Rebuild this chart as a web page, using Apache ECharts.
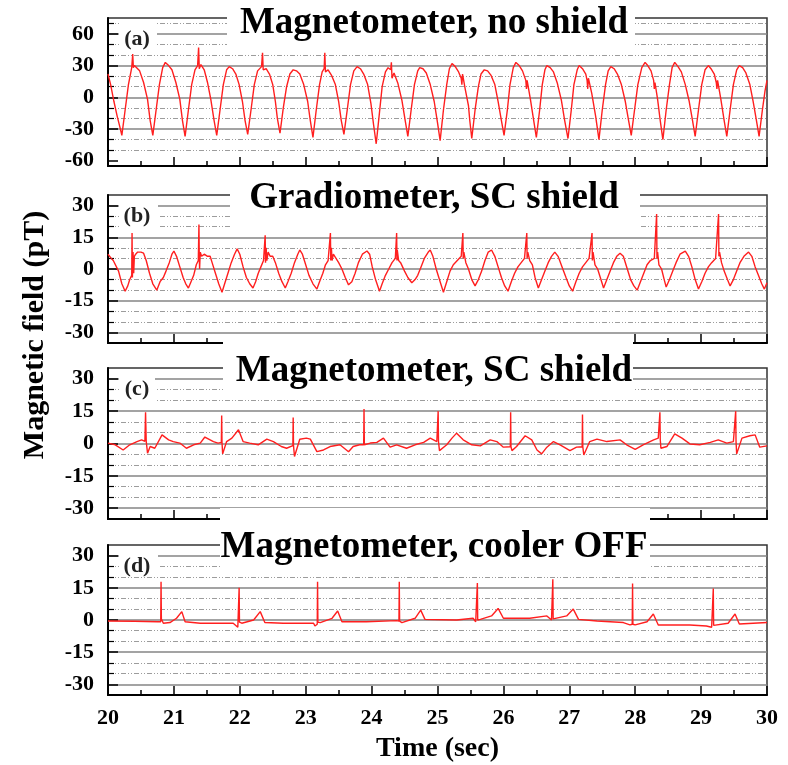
<!DOCTYPE html>
<html>
<head>
<meta charset="utf-8">
<title>Magnetic field traces</title>
<script src="https://cdn.jsdelivr.net/npm/echarts@6.0.0/dist/echarts.min.js"></script>
<style>
    html, body { margin: 0; padding: 0; background: #fff; }
    #chart { width: 788px; height: 765px; }
</style>
</head>
<body>
<div id="chart"></div>
<script>
// panel titles and tags
const panelTitles = ['Magnetometer, no shield', 'Gradiometer, SC shield', 'Magnetometer, SC shield', 'Magnetometer, cooler OFF'];
const panelTags = ['(a)', '(b)', '(c)', '(d)'];

// y ranges and ticks (pT)
const rangeA = [-65, 75];
const rangeBCD = [-35, 35];
const majorTicksA = [-60, -30, 0, 30, 60];
const minorTicksA = [-50, -40, -20, -10, 10, 20, 40, 50, 70];
const majorTicks = [-30, -15, 0, 15, 30];
const minorTicks = [-25, -20, -10, -5, 5, 10, 20, 25];
const timeRange = [20, 30];

// (a) magnetometer, no shield  [time s, field pT]
const traceA = [
    [20.00,22],[20.04,12],[20.09,-4],[20.14,-18],[20.18,-28],[20.21,-36],
    [20.26,-12],[20.31,12],[20.36,28],[20.375,41],[20.385,28],[20.40,30],[20.43,29],[20.48,25],[20.54,14],[20.60,-2],[20.64,-22],[20.68,-36],
    [20.73,-12],[20.78,12],[20.83,28],[20.87,33],[20.92,30],[20.97,26],[21.03,14],[21.09,-2],[21.13,-22],[21.17,-37],
    [21.22,-12],[21.27,12],[21.32,26],[21.36,30],[21.375,47],[21.385,27],[21.41,31],[21.46,26],[21.51,14],[21.56,-2],[21.61,-22],[21.65,-36],
    [21.70,-12],[21.75,12],[21.80,26],[21.84,29],[21.89,27],[21.94,22],[21.99,12],[22.04,-4],[22.08,-22],[22.12,-35],
    [22.17,-12],[22.22,12],[22.27,25],[22.33,29],[22.345,42],[22.355,26],[22.40,27],[22.45,22],[22.50,12],[22.54,-4],[22.57,-20],[22.61,-34],
    [22.66,-10],[22.71,10],[22.76,22],[22.81,26],[22.86,25],[22.91,22],[22.97,12],[23.03,-4],[23.07,-22],[23.11,-38],
    [23.16,-12],[23.21,12],[23.25,24],[23.28,27],[23.29,42],[23.30,24],[23.34,26],[23.39,21],[23.45,12],[23.50,-4],[23.54,-22],[23.58,-35],
    [23.63,-12],[23.68,12],[23.73,25],[23.78,29],[23.83,27],[23.88,22],[23.94,12],[23.99,-6],[24.03,-26],[24.07,-44],
    [24.12,-14],[24.16,10],[24.21,24],[24.25,28],[24.29,26],[24.30,33],[24.31,18],[24.34,23],[24.40,13],[24.46,-3],[24.51,-22],[24.55,-37],
    [24.60,-12],[24.65,12],[24.70,25],[24.73,28],[24.78,27],[24.83,23],[24.89,12],[24.95,-4],[25.00,-24],[25.04,-41],
    [25.09,-12],[25.14,12],[25.18,27],[25.22,32],[25.27,29],[25.32,24],[25.36,18],[25.37,12],[25.38,22],[25.42,8],[25.47,-8],[25.49,-22],[25.52,-39],
    [25.57,-12],[25.62,10],[25.66,22],[25.71,26],[25.76,25],[25.81,21],[25.87,12],[25.92,-4],[25.97,-22],[26.01,-36],
    [26.06,-12],[26.10,12],[26.15,28],[26.19,33],[26.24,30],[26.29,25],[26.34,16],[26.35,8],[26.36,16],[26.41,-2],[26.46,-22],[26.50,-38],
    [26.55,-12],[26.59,12],[26.63,26],[26.66,30],[26.71,28],[26.76,24],[26.82,13],[26.88,-3],[26.93,-22],[26.98,-39],
    [27.03,-12],[27.07,12],[27.12,26],[27.15,30],[27.20,27],[27.25,22],[27.27,16],[27.28,8],[27.29,18],[27.34,4],[27.40,-18],[27.45,-40],
    [27.50,-12],[27.55,12],[27.59,25],[27.63,29],[27.68,27],[27.73,22],[27.79,12],[27.85,-4],[27.90,-22],[27.94,-36],
    [27.99,-12],[28.04,12],[28.10,28],[28.15,33],[28.19,30],[28.24,25],[28.28,16],[28.29,8],[28.30,14],[28.34,-2],[28.38,-22],[28.42,-40],
    [28.47,-12],[28.52,12],[28.56,28],[28.60,33],[28.65,29],[28.70,24],[28.76,12],[28.82,-4],[28.87,-22],[28.91,-37],
    [28.96,-12],[29.01,12],[29.06,26],[29.11,30],[29.15,27],[29.20,22],[29.23,14],[29.24,8],[29.25,16],[29.30,-2],[29.35,-22],[29.39,-37],
    [29.44,-12],[29.49,12],[29.54,26],[29.58,30],[29.63,28],[29.68,23],[29.74,12],[29.79,-4],[29.84,-22],[29.88,-37],
    [29.93,-12],[29.97,6],[30.00,16]
];

// (b) gradiometer, SC shield
const traceB = [
    [20.00,7],[20.05,5],[20.08,4],[20.11,3.5],[20.16,-1],[20.21,-7],[20.26,-10.5],[20.30,-8],[20.33,-5],[20.36,-3],[20.365,17],[20.37,-4],[20.38,8],[20.39,-2],[20.40,6],[20.42,7],[20.45,8],[20.50,8],[20.54,7.5],[20.58,4],[20.63,-2],[20.68,-7],[20.74,-10],
    [20.79,-6],[20.84,-4],[20.88,-1],[20.93,3],[20.97,7],[21.00,8.5],[21.04,6],[21.09,1],[21.14,-4],[21.18,-7],[21.22,-9],
    [21.26,-6],[21.30,-3],[21.34,2],[21.37,4],[21.38,21],[21.385,6],[21.39,0],[21.40,8],[21.42,6],[21.46,7],[21.51,6],[21.55,6],[21.58,3],[21.63,-2],[21.68,-7],[21.73,-11],
    [21.77,-7],[21.82,-2],[21.87,3],[21.92,7],[21.96,9.5],[22.00,7],[22.05,1],[22.10,-4],[22.15,-7],[22.20,-9],
    [22.24,-6],[22.28,-2],[22.32,1],[22.36,4],[22.385,16],[22.39,3],[22.40,10],[22.41,4],[22.43,8],[22.46,6],[22.50,6],[22.54,3],[22.59,-2],[22.64,-6],[22.69,-9],
    [22.73,-6],[22.78,-2],[22.83,3],[22.88,7],[22.91,9],[22.95,7],[23.00,2],[23.05,-3],[23.11,-7],[23.17,-9.5],
    [23.21,-6],[23.26,-2],[23.30,2],[23.34,4],[23.375,17],[23.38,4],[23.39,10],[23.40,4],[23.42,7],[23.46,5],[23.50,3],[23.55,0],[23.60,-4],[23.65,-7.5],
    [23.70,-6],[23.75,-2],[23.80,3],[23.86,7],[23.93,8.5],[23.97,7],[24.01,1],[24.06,-5],[24.12,-10.5],
    [24.16,-7],[24.21,-3],[24.26,0],[24.31,3],[24.36,5],[24.38,17],[24.385,4],[24.39,9],[24.41,4],[24.44,3],[24.50,-1],[24.55,-4],[24.61,-6.5],[24.66,-5],[24.70,-3],
    [24.75,1],[24.80,5],[24.86,8],[24.89,9],[24.93,6],[24.98,0],[25.04,-6],[25.09,-11],
    [25.14,-6],[25.19,-1],[25.24,2],[25.30,4],[25.36,6],[25.385,17],[25.39,5],[25.40,8],[25.43,3],[25.47,0],[25.52,-5],[25.57,-8],
    [25.62,-5],[25.67,-1],[25.72,4],[25.77,8],[25.82,9],[25.87,6],[25.92,1],[25.97,-4],[26.02,-8],[26.07,-10.5],
    [26.12,-6],[26.17,-2],[26.22,1],[26.27,3],[26.32,5],[26.355,17],[26.36,5],[26.37,8],[26.40,4],[26.44,2],[26.48,-4],[26.53,-9],
    [26.58,-5],[26.63,-1],[26.68,3],[26.73,6],[26.78,8],[26.83,6],[26.89,1],[26.95,-4],[27.00,-8],[27.05,-10.5],
    [27.10,-6],[27.15,-2],[27.20,1],[27.25,3],[27.30,5],[27.345,17],[27.35,4],[27.36,8],[27.39,2],[27.43,0],[27.48,-5],[27.52,-9],
    [27.57,-5],[27.62,-1],[27.67,3],[27.72,6],[27.77,7.5],[27.82,6],[27.88,0],[27.93,-5],[27.98,-8],[28.03,-10],
    [28.08,-6],[28.13,-2],[28.18,2],[28.23,4],[28.29,5],[28.325,26],[28.33,5],[28.34,8],[28.36,2],[28.40,0],[28.44,-5],[28.47,-8.5],
    [28.52,-5],[28.57,-1],[28.62,3],[28.68,7],[28.76,8.5],[28.81,6],[28.86,1],[28.91,-5],[28.96,-9.5],
    [29.01,-6],[29.06,-2],[29.11,1],[29.16,3],[29.22,5],[29.265,26],[29.27,6],[29.28,8],[29.31,3],[29.35,-1],[29.40,-5],[29.44,-8],
    [29.49,-5],[29.54,-1],[29.59,3],[29.65,6],[29.72,8],[29.77,6],[29.82,1],[29.87,-3],[29.92,-7],[29.96,-9.5],[30.00,-6.5]
];

// (c) magnetometer, SC shield
const traceC = [
    [20.00,0.2],[20.11,-0.6],[20.23,-3],[20.33,-0.6],[20.44,0.9],[20.51,1.7],[20.56,1],[20.57,14.5],[20.58,1],[20.60,-4.5],[20.64,-1.4],[20.71,-2.2],[20.82,4],[20.92,1.7],[20.99,0.9],
    [21.09,0.2],[21.19,-2.2],[21.30,-0.6],[21.40,0.2],[21.47,3],[21.60,0.9],[21.67,0.2],[21.72,0.5],[21.725,13],[21.73,0.5],[21.74,-4.8],[21.80,0.9],[21.88,2.5],[21.98,6.4],
    [22.05,0.9],[22.15,0.2],[22.28,-0.6],[22.41,2],[22.51,0.9],[22.63,-1.4],[22.71,-2.2],[22.805,-1],[22.81,12],[22.815,-1],[22.83,-6],[22.91,2],[23.01,2.5],[23.07,2],
    [23.17,-3.8],[23.27,-3],[23.37,-1.4],[23.52,-0.6],[23.65,-3.8],[23.72,-1.4],[23.82,-0.6],[23.88,-0.6],[23.885,16],[23.89,-0.6],[23.98,0.2],[24.08,0.5],[24.18,2.5],
    [24.28,-1.7],[24.38,-0.6],[24.53,-2.2],[24.66,-0.6],[24.79,0.5],[24.89,2.5],[24.99,0.9],[25.005,0.9],[25.01,15],[25.015,0.9],[25.03,-3.3],[25.14,-0.6],[25.22,2.5],[25.29,4.8],
    [25.39,1.7],[25.52,-0.6],[25.65,-1.1],[25.80,1.7],[25.90,0.9],[26.00,-1.7],[26.105,-1.5],[26.11,14.5],[26.115,-1.5],[26.13,-3.3],[26.20,-1.4],[26.33,3.6],[26.43,1.7],
    [26.51,-3],[26.58,-4.8],[26.66,-1.7],[26.76,0.9],[26.86,-0.6],[27.01,-3.3],[27.11,-1.7],[27.195,-1.5],[27.20,13.4],[27.205,-1.5],[27.22,-5.3],[27.31,0.9],[27.42,2],
    [27.57,0.9],[27.77,1.7],[27.87,-0.6],[28.00,-2.7],[28.12,-0.6],[28.28,1.7],[28.35,2.5],[28.37,2.5],[28.375,14.5],[28.38,2],[28.39,-2.2],[28.48,-1.4],[28.60,4.5],
    [28.71,2.5],[28.83,-0.2],[28.98,-0.6],[29.14,0.5],[29.26,1.7],[29.39,0.2],[29.49,0.9],[29.52,0.9],[29.525,15],[29.53,0.9],[29.54,-4.8],[29.62,2.5],[29.74,3.6],
    [29.82,4],[29.89,-1.7],[30.00,-1.1]
];

// (d) magnetometer, cooler OFF
const traceD = [
    [20.00,-0.5],[20.40,-0.6],[20.75,-0.8],[20.80,-0.8],[20.805,17.8],[20.81,0.5],[20.84,-1.5],[20.94,-1.2],[21.04,0.8],[21.12,3.9],[21.17,-0.8],[21.40,-1.5],
    [21.90,-1.5],[21.97,-3.4],[21.985,-2.5],[21.99,15],[21.995,-1],[22.03,-1.5],[22.21,0],[22.31,3.9],[22.38,-1.2],[22.66,-1.5],[23.12,-1.5],[23.14,-2.8],
    [23.175,-2],[23.18,17.8],[23.185,-1],[23.22,-1.2],[23.40,0.8],[23.485,4.2],[23.55,-0.8],[23.92,-0.8],[24.38,-0.3],[24.415,-0.5],[24.42,17.8],[24.425,-0.5],
    [24.46,-1.2],[24.66,0.8],[24.745,4.6],[24.81,0.3],[25.29,0],[25.54,0.8],[25.58,-0.8],[25.60,-0.5],[25.605,17.3],[25.61,0],[25.65,0.3],[25.82,1.9],
    [25.92,5.4],[26.00,0.8],[26.40,0.8],[26.66,1.9],[26.73,0],[26.745,0.5],[26.75,19],[26.755,0.5],[26.78,0.3],[26.96,1.9],[27.06,5.1],[27.14,0.3],
    [27.42,-0.5],[27.82,-1.2],[27.92,-2.3],[27.955,-2],[27.96,17],[27.965,-2],[28.00,-2.3],[28.18,-0.8],[28.275,2.8],[28.35,-2.3],[28.83,-2.3],
    [29.08,-2.8],[29.16,-3.4],[29.18,-3],[29.185,14.7],[29.19,-2.5],[29.22,-3.1],[29.41,-1.5],[29.515,2.8],[29.58,-1.9],[30.00,-1.2]
];

const traces = [traceA, traceB, traceC, traceD];

const serif = '"Liberation Serif", "Times New Roman", serif';
const solidGrid = '#858585';
const dashGrid = '#9c9c9c';

const chart = echarts.init(document.getElementById('chart'));

const gridTops = [18, 195, 368, 545];
const gridHeights = [148, 148, 151, 150];

const grids = gridTops.map((top, i) => ({
    left: 108,
    top: top,
    width: 659,
    height: gridHeights[i],
    show: true,
    borderColor: '#333',
    borderWidth: 1.5
}));

const xAxes = gridTops.map((top, i) => ({
    type: 'value',
    gridIndex: i,
    min: timeRange[0],
    max: timeRange[1],
    interval: 1,
    name: i === 3 ? 'Time (sec)' : '',
    nameLocation: 'middle',
    nameGap: 40,
    nameTextStyle: {fontFamily: serif, fontWeight: 'bold', fontSize: 28, color: '#000'},
    axisLine: {show: true, onZero: false, lineStyle: {color: '#000', width: 2}},
    axisTick: {show: true, inside: true, length: 9, lineStyle: {color: '#000', width: 1.5}},
    minorTick: {show: true, splitNumber: 2, length: 5, lineStyle: {color: '#000', width: 1.5}},
    axisLabel: {
        show: i === 3,
        margin: 12,
        fontFamily: serif,
        fontWeight: 'bold',
        fontSize: 22,
        color: '#000'
    },
    splitLine: {show: false}
}));

const yAxes = [];
gridTops.forEach((top, i) => {
    const range = i === 0 ? rangeA : rangeBCD;
    const major = i === 0 ? majorTicksA : majorTicks;
    const minor = i === 0 ? minorTicksA : minorTicks;
    // line at the bottom tick is missing in panel (a)
    const majorColors = i === 0
        ? ['rgba(0,0,0,0)', solidGrid, solidGrid, solidGrid, solidGrid]
        : [solidGrid];
    yAxes.push({
        type: 'value',
        gridIndex: i,
        position: 'left',
        min: range[0],
        max: range[1],
        axisLine: {show: true, onZero: false, lineStyle: {color: '#000', width: 2}},
        axisTick: {show: true, inside: true, length: 10, customValues: major, lineStyle: {color: '#000', width: 1.5}},
        axisLabel: {
            customValues: major,
            margin: 14,
            fontFamily: serif,
            fontWeight: 'bold',
            fontSize: 22,
            color: '#000'
        },
        splitLine: {show: true, lineStyle: {color: majorColors, width: 1.5, type: 'solid'}}
    });
    yAxes.push({
        type: 'value',
        gridIndex: i,
        position: 'left',
        min: range[0],
        max: range[1],
        axisLine: {show: false},
        axisTick: {show: true, inside: true, length: 6, customValues: minor, lineStyle: {color: '#000', width: 1.2}},
        axisLabel: {show: false},
        splitLine: {show: true, lineStyle: {color: dashGrid, width: 1, type: [5, 2, 1, 2, 1, 2]}}
    });
});

const series = traces.map((trace, i) => ({
    type: 'line',
    xAxisIndex: i,
    yAxisIndex: i * 2,
    data: trace,
    showSymbol: false,
    smooth: false,
    lineStyle: {color: '#ff1f1f', width: 1.4},
    z: 3
}));

// white boxes behind the titles and panel tags, as in the original figure
const titleBoxes = [
    {x: 227, y: 0, w: 408, h: 50, ty: 23},
    {x: 230, y: 182, w: 410, h: 50, ty: 198},
    {x: 223, y: 334, w: 410, h: 62, ty: 371},
    {x: 220, y: 508, w: 430, h: 64, ty: 547}
];
const tagBoxes = [
    {x: 119, y: 19, w: 38, h: 32, ty: 39},
    {x: 119, y: 196, w: 39, h: 35, ty: 216},
    {x: 119, y: 369, w: 36, h: 37, ty: 389},
    {x: 119, y: 546, w: 39, h: 27, ty: 566}
];

const graphics = [];
titleBoxes.forEach((b, i) => {
    graphics.push({
        type: 'rect', z: 100,
        shape: {x: b.x, y: b.y, width: b.w, height: b.h},
        style: {fill: '#fff'}
    });
    graphics.push({
        type: 'text', z: 101,
        x: 434, y: b.ty,
        style: {
            text: panelTitles[i],
            font: 'bold 37px ' + serif,
            fill: '#000',
            textAlign: 'center',
            textVerticalAlign: 'middle'
        }
    });
});
tagBoxes.forEach((b, i) => {
    graphics.push({
        type: 'rect', z: 100,
        shape: {x: b.x, y: b.y, width: b.w, height: b.h},
        style: {fill: '#fff'}
    });
    graphics.push({
        type: 'text', z: 101,
        x: 137, y: b.ty,
        style: {
            text: panelTags[i],
            font: 'bold 22px ' + serif,
            fill: '#222',
            textAlign: 'center',
            textVerticalAlign: 'middle'
        }
    });
});
graphics.push({
    type: 'text', z: 101,
    x: 35, y: 335,
    rotation: Math.PI / 2,
    style: {
        text: 'Magnetic field (pT)',
        font: 'bold 30px ' + serif,
        fill: '#000',
        textAlign: 'center',
        textVerticalAlign: 'middle'
    }
});

chart.setOption({
    animation: false,
    backgroundColor: '#fff',
    grid: grids,
    xAxis: xAxes,
    yAxis: yAxes,
    series: series,
    graphic: graphics
});
</script>
</body>
</html>
